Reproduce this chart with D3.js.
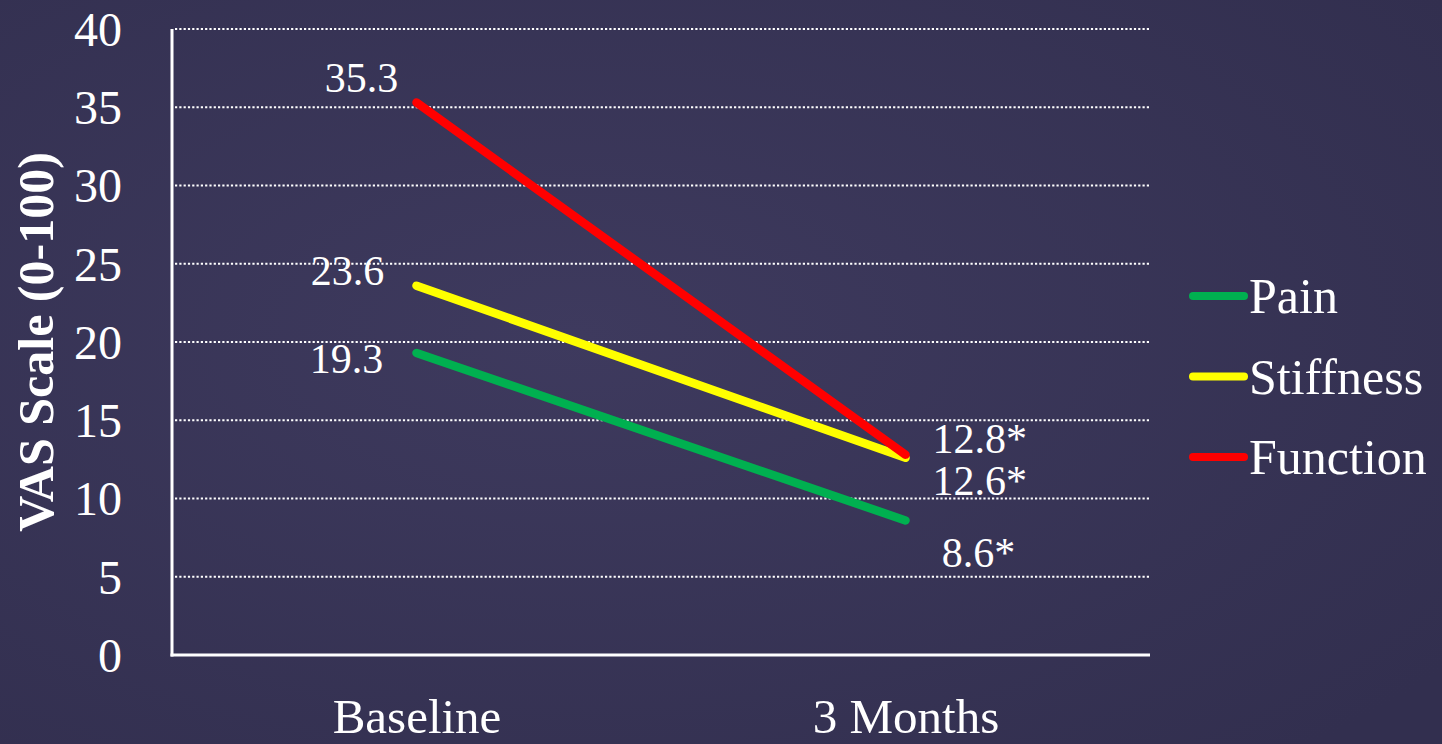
<!DOCTYPE html>
<html>
<head>
<meta charset="utf-8">
<script src="https://cdn.jsdelivr.net/npm/d3@7"></script>
<style>
  html, body { margin: 0; padding: 0; background: #3a3758; }
  svg { display: block; }
  text { font-family: "Palatino Linotype", "Book Antiqua", Palatino, "Liberation Serif", serif; fill: #ffffff; }
</style>
</head>
<body>
<svg id="chart" width="1442" height="744"></svg>
<script>
// Time points on the x axis
const timepoints = ["Baseline", "3 Months"];
// VAS scores (0-100) per outcome
const painValues = [19.3, 8.6];
const stiffnessValues = [23.6, 12.6];
const functionValues = [35.3, 12.8];
// Text shown next to each point
const painLabels = ["19.3", "8.6*"];
const stiffnessLabels = ["23.6", "12.6*"];
const functionLabels = ["35.3", "12.8*"];
const seriesNames = ["Pain", "Stiffness", "Function"];
const yTicks = [0, 5, 10, 15, 20, 25, 30, 35, 40];

const series = [
  { name: seriesNames[0], values: painValues, labels: painLabels, color: "#00b050",
    labelPos: [{ dx: -70, dy: 20, anchor: "middle" }, { dx: 73, dy: 47, anchor: "middle" }] },
  { name: seriesNames[1], values: stiffnessValues, labels: stiffnessLabels, color: "#ffff00",
    labelPos: [{ dx: -69, dy: -1, anchor: "middle" }, { dx: 27, dy: 37, anchor: "start" }] },
  { name: seriesNames[2], values: functionValues, labels: functionLabels, color: "#ff0000",
    labelPos: [{ dx: -55, dy: -11, anchor: "middle" }, { dx: 27, dy: -2, anchor: "start" }] }
];

const svg = d3.select("#chart");
const W = 1442, H = 744;

// Background with a soft radial falloff
const defs = svg.append("defs");
const bg = defs.append("radialGradient").attr("id", "bg")
  .attr("cx", "40%").attr("cy", "45%").attr("r", "75%");
bg.append("stop").attr("offset", "0%").attr("stop-color", "#3e3a5e");
bg.append("stop").attr("offset", "100%").attr("stop-color", "#322f4f");
svg.append("rect").attr("width", W).attr("height", H).attr("fill", "url(#bg)");

const plot = { left: 172, right: 1150, top: 29, bottom: 655 };

const x = d3.scalePoint().domain(timepoints).range([plot.left, plot.right]).padding(0.5);
const y = d3.scaleLinear().domain([0, 40]).range([plot.bottom, plot.top]);

// Dotted horizontal gridlines
svg.append("g")
  .selectAll("line")
  .data(yTicks.filter(t => t > 0))
  .join("line")
  .attr("x1", plot.left + 3).attr("x2", plot.right)
  .attr("y1", d => y(d)).attr("y2", d => y(d))
  .attr("stroke", "#ffffff").attr("stroke-width", 2.2)
  .attr("stroke-dasharray", "2.2,2.1");

// Y axis
const yAxis = svg.append("g")
  .attr("transform", `translate(${plot.left},0)`)
  .call(d3.axisLeft(y).tickValues(yTicks).tickSize(0).tickPadding(50));
yAxis.select(".domain").remove();
yAxis.selectAll("text")
  .style("font-size", "48px").attr("fill", "#ffffff").attr("dy", "0.34em");
svg.append("line")
  .attr("x1", plot.left).attr("x2", plot.left)
  .attr("y1", plot.top).attr("y2", plot.bottom + 1.5)
  .attr("stroke", "#ffffff").attr("stroke-width", 3);

// X axis
const xAxis = svg.append("g")
  .attr("transform", `translate(0,${plot.bottom})`)
  .call(d3.axisBottom(x).tickSize(0).tickPadding(43));
xAxis.select(".domain").remove();
xAxis.selectAll("text").style("font-size", "49px").attr("fill", "#ffffff");
svg.append("line")
  .attr("x1", plot.left - 1.5).attr("x2", plot.right)
  .attr("y1", plot.bottom).attr("y2", plot.bottom)
  .attr("stroke", "#ffffff").attr("stroke-width", 3);

// Y axis title
svg.append("text")
  .attr("transform", `translate(53,342) rotate(-90)`)
  .attr("text-anchor", "middle")
  .style("font-size", "50px").style("font-weight", "bold")
  .text("VAS Scale (0-100)");

// Series lines
const line = d3.line().x((d, i) => x(timepoints[i])).y(d => y(d));
svg.append("g")
  .selectAll("path")
  .data(series)
  .join("path")
  .attr("d", s => line(s.values))
  .attr("fill", "none")
  .attr("stroke", s => s.color)
  .attr("stroke-width", 8.5)
  .attr("stroke-linecap", "round");

// Value labels
series.forEach(s => {
  svg.append("g")
    .selectAll("text")
    .data(s.values)
    .join("text")
    .attr("x", (d, i) => x(timepoints[i]) + s.labelPos[i].dx)
    .attr("y", (d, i) => y(d) + s.labelPos[i].dy)
    .attr("text-anchor", (d, i) => s.labelPos[i].anchor)
    .style("font-size", "42px")
    .text((d, i) => s.labels[i]);
});

// Legend
const legend = svg.append("g").attr("transform", "translate(1190,296)");
const item = legend.selectAll("g")
  .data(series)
  .join("g")
  .attr("transform", (d, i) => `translate(0,${i * 80.5})`);
item.append("line")
  .attr("x1", 3).attr("x2", 54)
  .attr("stroke", d => d.color).attr("stroke-width", 8)
  .attr("stroke-linecap", "round");
item.append("text")
  .attr("x", 59).attr("dy", "0.34em")
  .style("font-size", "50px")
  .text(d => d.name);
</script>
</body>
</html>
